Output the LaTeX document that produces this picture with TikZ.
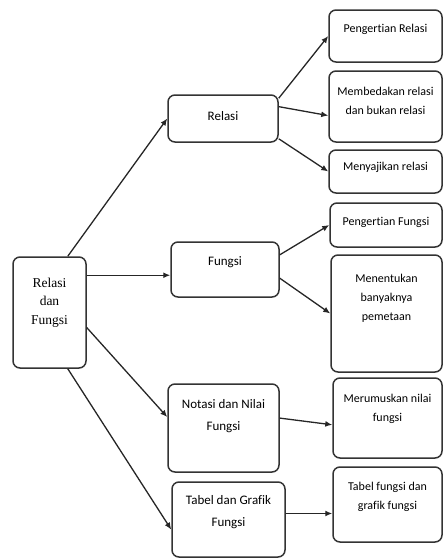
\documentclass[tikz,border=0pt]{standalone}
\usepackage{fontspec}
\setmainfont{Carlito}[Ligatures=NoCommon]
\newfontfamily\boxserif{Liberation Serif}
\usetikzlibrary{arrows.meta}
\newcommand{\cardtext}[4]{\parbox[c][#2pt][t]{#1pt}{\centering\vspace*{#3pt}\strut#4}}

\begin{document}
\begin{tikzpicture}[x=1pt, y=-1pt,
    card/.style={draw=black!80, line width=1.5pt, rounded corners=7pt, inner sep=0pt},
    midcard/.style={card, font=\fontsize{13}{22}\selectfont},
    leafcard/.style={card, font=\fontsize{12}{19}\selectfont},
    link/.style={-{Latex[length=7pt,width=6pt]}, line width=1.3pt, black!85}]
    \useasboundingbox (0,0) rectangle (443,558);
    % root
    \node[card, font=\fontsize{13.5}{18.5}\boxserif] (rdf) at (49.5,312.5) {\cardtext{73}{111}{17.1}{Relasi\\dan\\Fungsi}};
    % sub topics
    \node[midcard] (rel) at (223,118.5) {\cardtext{110}{47}{10.5}{Relasi}};
    \node[midcard] (fun) at (225,269.5) {\cardtext{108}{55}{8.5}{Fungsi}};
    \node[midcard] (not) at (223.5,428) {\cardtext{111}{88}{9.5}{Notasi dan Nilai\\Fungsi}};
    \node[midcard] (tab) at (228.5,519.5) {\cardtext{113}{75}{7.5}{Tabel dan Grafik\\Fungsi}};
    % details
    \node[leafcard] (pr) at (385.5,36) {\cardtext{113}{52}{9.3}{Pengertian Relasi}};
    \node[leafcard] (mb) at (385.5,106.5) {\cardtext{113}{71}{11.3}{Membedakan relasi\\dan bukan relasi}};
    \node[leafcard] (mr) at (385.5,171.5) {\cardtext{113}{43}{7.3}{Menyajikan relasi}};
    \node[leafcard] (pf) at (386,225) {\cardtext{112}{44}{9.3}{Pengertian Fungsi}};
    \node[leafcard] (mn) at (386.5,313.5) {\cardtext{111}{117}{14.3}{Menentukan\\banyaknya\\pemetaan}};
    \node[leafcard] (mm) at (387.5,418) {\cardtext{109}{80}{11.3}{Merumuskan nilai\\fungsi}};
    \node[leafcard] (tf) at (387.5,504.5) {\cardtext{109}{75}{10.3}{Tabel fungsi dan\\grafik fungsi}};
    % links
    \draw[link] (rdf.72) -- (rel.west);
    \draw[link] (rdf.45) -- (rdf.45 -| fun.west);
    \draw[link] (rdf.-22) -- (not.169);
    \draw[link] (rdf.-72) -- (tab.190);
    \draw[link] (rel.20) -- (pr.west);
    \draw[link] (rel.12) -- (mb.189);
    \draw[link] (rel.-20) -- (mr.west);
    \draw[link] (fun.15) -- (pf.west);
    \draw[link] (fun.-9) -- (mn.west);
    \draw[link] (not.10) -- (mm.187);
    \draw[link] (tab.6) -- (tab.6 -| tf.west);
\end{tikzpicture}
\end{document}
